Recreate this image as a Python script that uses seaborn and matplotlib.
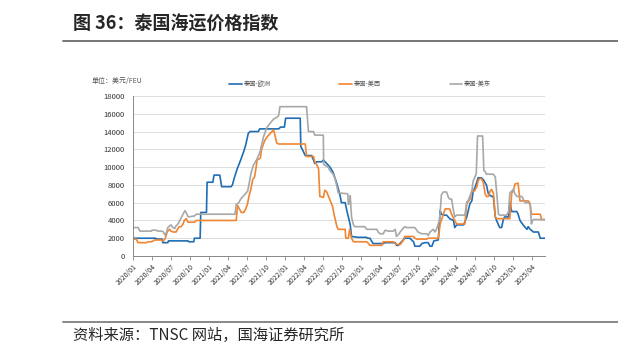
import matplotlib
matplotlib.use("Agg")
import matplotlib.pyplot as plt
import seaborn as sns
import numpy as np
import pandas as pd

# (months since 2020/01, USD/FEU)
thai_eu = [(0.0, 2000), (3.6, 2000), (3.7, 1900), (4.6, 1900), (4.7, 1500), (5.5, 1500), (5.6, 1700), (8.7, 1700),
           (8.8, 1600), (9.6, 1600), (9.7, 2000), (10.6, 2000), (10.7, 4900), (11.6, 4900), (11.7, 8300), (12.6, 8300),
           (12.8, 9100), (13.7, 9100), (14.0, 7800), (15.5, 7800), (15.7, 8000), (16.0, 8800), (16.4, 9700), (17.0, 10800),
           (17.5, 11800), (17.8, 12500), (18.2, 13800), (18.5, 14000), (19.8, 14000), (20.0, 14300), (23.0, 14300),
           (23.3, 14500), (23.9, 14500), (24.1, 15500), (26.4, 15500), (26.5, 12300), (26.8, 11900), (27.2, 11300),
           (28.2, 11300), (28.5, 10800), (28.7, 10400), (29.0, 10600), (29.8, 10600), (30.05, 10800), (30.6, 10400),
           (31.1, 10000), (31.6, 9400), (32.2, 8100), (32.7, 6800), (32.9, 6000), (33.5, 6000), (33.7, 5300), (34.0, 4400),
           (34.3, 3500), (34.5, 2200), (35.5, 2100), (36.9, 2100), (37.0, 2000), (37.4, 2000), (37.9, 1400), (39.5, 1400),
           (39.8, 1500), (41.4, 1500), (41.6, 1200), (41.9, 1200), (42.4, 1600), (42.9, 2000), (43.7, 2000), (44.3, 1600),
           (44.5, 1100), (45.3, 1100), (45.6, 1400), (46.1, 1500), (46.6, 1500), (46.9, 1100), (47.2, 1100), (47.5, 1700),
           (48.2, 1800), (48.5, 5100), (48.7, 4700), (49.0, 4600), (49.5, 4600), (50.0, 4200), (50.6, 4000), (50.8, 3200),
           (51.1, 3500), (52.2, 3500), (52.7, 4400), (53.2, 5900), (53.5, 6200), (53.7, 7300), (54.0, 7700), (54.5, 8800),
           (55.0, 8800), (55.3, 8600), (55.8, 8000), (56.1, 7000), (56.6, 6700), (56.9, 6700), (57.2, 4400), (57.4, 4000),
           (57.7, 3500), (57.9, 3200), (58.2, 3200), (58.5, 4200), (58.7, 4400), (59.3, 4400), (59.5, 6000), (59.8, 5000),
           (60.6, 5000), (60.8, 4700), (61.1, 4000), (61.6, 3500), (62.2, 3000), (62.4, 3300), (62.7, 3000), (62.9, 2900),
           (63.2, 2700), (64.0, 2700), (64.3, 2000), (65.05, 2000)]

thai_usw = [(0.0, 1900), (0.5, 1900), (0.8, 1500), (2.1, 1500), (2.4, 1600), (2.9, 1600), (3.2, 1700), (3.4, 1800),
            (4.5, 1800), (4.8, 1700), (5.1, 2000), (5.4, 2700), (5.6, 2900), (5.8, 3000), (6.0, 2800), (6.3, 2700),
            (6.8, 2700), (7.1, 3100), (7.3, 3300), (7.6, 3300), (7.9, 3600), (8.1, 4000), (8.4, 4200), (8.7, 3800),
            (9.7, 3800), (10.0, 4000), (16.3, 4000), (16.5, 5700), (16.8, 5300), (17.1, 4900), (17.5, 4900), (17.8, 5300),
            (18.1, 5900), (18.3, 6700), (18.6, 7500), (18.9, 8600), (19.2, 8900), (19.4, 9800), (19.6, 10800), (20.1, 11000),
            (20.3, 12000), (20.8, 13000), (21.3, 13500), (22.2, 14200), (22.7, 12700), (23.0, 12600), (27.2, 12600),
            (27.4, 11200), (28.5, 11200), (28.7, 10600), (29.0, 10300), (29.3, 9800), (29.5, 6700), (30.05, 6600),
            (30.3, 7400), (30.6, 7200), (31.1, 6300), (31.5, 5600), (31.8, 4500), (32.2, 3300), (32.4, 3000), (33.5, 3000),
            (33.6, 2000), (34.0, 2000), (34.2, 3000), (34.5, 2000), (34.8, 1600), (36.9, 1600), (37.2, 1400), (37.4, 1200),
            (39.3, 1200), (39.5, 1600), (41.1, 1600), (41.4, 1400), (41.6, 1300), (42.2, 1300), (42.7, 1800), (42.9, 2200),
            (44.3, 2200), (44.5, 2000), (44.8, 1900), (46.4, 1900), (46.6, 2000), (48.2, 2000), (48.5, 3600), (49.0, 4700),
            (49.3, 5300), (50.0, 5300), (50.3, 4700), (50.8, 4000), (51.1, 3600), (52.4, 3600), (52.7, 5900), (53.2, 6400),
            (53.5, 7300), (53.9, 7300), (54.3, 7800), (54.5, 8500), (54.8, 8700), (55.0, 8700), (55.3, 8300), (55.6, 7000),
            (55.8, 6700), (56.1, 6700), (56.4, 7300), (56.6, 7500), (56.9, 7100), (57.2, 4400), (57.4, 4200), (59.5, 4200),
            (59.8, 7100), (60.05, 7300), (60.3, 8100), (60.8, 8200), (61.1, 6200), (62.4, 6200), (62.7, 5900), (62.9, 4700),
            (64.3, 4700), (64.5, 4100), (65.05, 4100)]

thai_use = [(0.0, 3200), (0.8, 3200), (1.1, 2800), (2.9, 2800), (3.0, 2900), (3.7, 2900), (3.9, 2800), (4.6, 2800),
            (4.8, 2700), (5.1, 2300), (5.3, 2700), (5.5, 3200), (5.8, 3400), (6.0, 3500), (6.3, 3200), (6.6, 3100),
            (6.8, 3400), (7.1, 3600), (7.4, 4000), (7.6, 4300), (7.9, 4700), (8.2, 5100), (8.4, 4900), (8.7, 4400),
            (9.7, 4500), (10.0, 4700), (16.1, 4700), (16.3, 5800), (16.7, 6000), (17.0, 6400), (17.5, 6800), (18.1, 7300),
            (18.3, 8000), (18.6, 9200), (19.0, 10200), (19.5, 10800), (20.05, 11700), (20.6, 13400), (21.1, 14400),
            (21.6, 14900), (22.2, 15400), (22.7, 15600), (23.0, 15800), (23.2, 16800), (27.4, 16800), (27.7, 14000),
            (28.5, 14000), (28.7, 13600), (30.05, 13600), (30.1, 10300), (30.8, 10000), (31.1, 9600), (31.6, 9200),
            (31.9, 8700), (32.2, 7800), (32.4, 7100), (33.9, 7000), (34.0, 5800), (34.2, 5900), (34.3, 6800), (34.5, 4400),
            (34.8, 3500), (35.0, 3300), (36.6, 3300), (36.9, 3000), (38.5, 3000), (38.7, 2700), (39.0, 2500), (39.5, 2500),
            (39.8, 2900), (40.3, 2800), (41.1, 2800), (41.4, 3000), (41.6, 2200), (41.9, 2400), (42.4, 2900), (42.9, 3300),
            (43.2, 3200), (44.5, 3200), (44.8, 2900), (45.0, 2700), (45.6, 2500), (46.4, 2500), (46.6, 2300), (46.9, 2700),
            (47.4, 3000), (47.7, 2700), (47.9, 3000), (48.4, 4000), (48.7, 6900), (49.0, 7200), (49.5, 7200), (49.8, 6600),
            (50.0, 6400), (50.3, 6400), (50.6, 5100), (50.8, 4400), (51.1, 4600), (52.4, 4600), (52.7, 6100), (52.9, 6200),
            (53.5, 7300), (53.7, 8400), (54.0, 8900), (54.2, 9300), (54.4, 13500), (55.2, 13500), (55.4, 9600),
            (55.6, 9500), (55.8, 9200), (56.9, 9200), (57.2, 8900), (57.4, 7300), (57.7, 4700), (57.9, 4600), (59.0, 4600),
            (59.3, 5000), (59.5, 7100), (59.8, 7300), (60.05, 7500), (60.3, 7000), (60.6, 6700), (61.4, 6700),
            (61.6, 6400), (61.9, 6000), (62.4, 6000), (62.7, 5800), (62.9, 3600), (63.1, 4000), (63.2, 4100), (65.05, 4100)]

series_names = ["泰国-欧洲", "泰国-美西", "泰国-美东"]
colors = ["#1f6db4", "#f08532", "#a8a8a8"]
y_ticks = list(range(0, 18001, 2000))

start = pd.Timestamp("2020-01-01")
frames = []
for name, pts in zip(series_names, [thai_eu, thai_usw, thai_use]):
    arr = np.array(pts, dtype=float)
    frames.append(pd.DataFrame({
        "date": start + pd.to_timedelta(arr[:, 0] * 30.4375, unit="D"),
        "value": arr[:, 1],
        "route": name,
    }))
df = pd.concat(frames, ignore_index=True)

sns.set_style("white")
plt.rcParams["font.family"] = ["Noto Sans CJK SC", "DejaVu Sans"]

fig = plt.figure(figsize=(6.18, 3.58), dpi=100)
ax = fig.add_axes([133 / 618, 1 - 256 / 358, 412 / 618, 160 / 358])

sns.lineplot(data=df, x="date", y="value", hue="route", palette=colors,
             estimator=None, sort=False, linewidth=1.2, ax=ax)

ax.set_ylim(0, 18000)
ax.set_yticks(y_ticks)
ax.set_xlim(start, df["date"].max())
ticks = pd.date_range("2020-01-01", "2025-04-01", freq="3MS")
ax.set_xticks(ticks)
ax.set_xticklabels([d.strftime("%Y/%m") for d in ticks], rotation=45,
                   ha="right", rotation_mode="anchor", fontsize=5, color="#333333")
ax.tick_params(axis="y", labelsize=5.5, labelcolor="#333333", length=0, pad=6)
ax.tick_params(axis="x", length=3, width=0.6, color="#888888", pad=2, bottom=True)
ax.grid(axis="y", color="#dddddd", linewidth=0.7)
ax.set_xlabel("")
ax.set_ylabel("")
for s in ["top", "right"]:
    ax.spines[s].set_visible(False)
for s in ["left", "bottom"]:
    ax.spines[s].set_color("#888888")
    ax.spines[s].set_linewidth(0.7)

leg = ax.legend(loc="center", bbox_to_anchor=(0.551, 1.075), ncol=3, frameon=False,
                fontsize=4.5, handlelength=2.0, columnspacing=11, handletextpad=0.3)
for txt in leg.get_texts():
    txt.set_color("#555555")

fig.text(92 / 618, 1 - 81 / 358, "单位：美元/FEU", fontsize=5, color="#555555", va="center")

fig.text(73 / 618, 1 - 24 / 358, "图 36：泰国海运价格指数", fontsize=13, fontweight="bold", va="center")
fig.add_artist(plt.Line2D([63 / 618, 1], [1 - 41 / 358] * 2, color="#777777", linewidth=1.4))
fig.add_artist(plt.Line2D([63 / 618, 1], [1 - 322 / 358] * 2, color="#888888", linewidth=1.4))
fig.text(73 / 618, 1 - 335 / 358, "资料来源：TNSC 网站，国海证券研究所", fontsize=11, va="center")

fig.savefig("out.png", dpi=100)
